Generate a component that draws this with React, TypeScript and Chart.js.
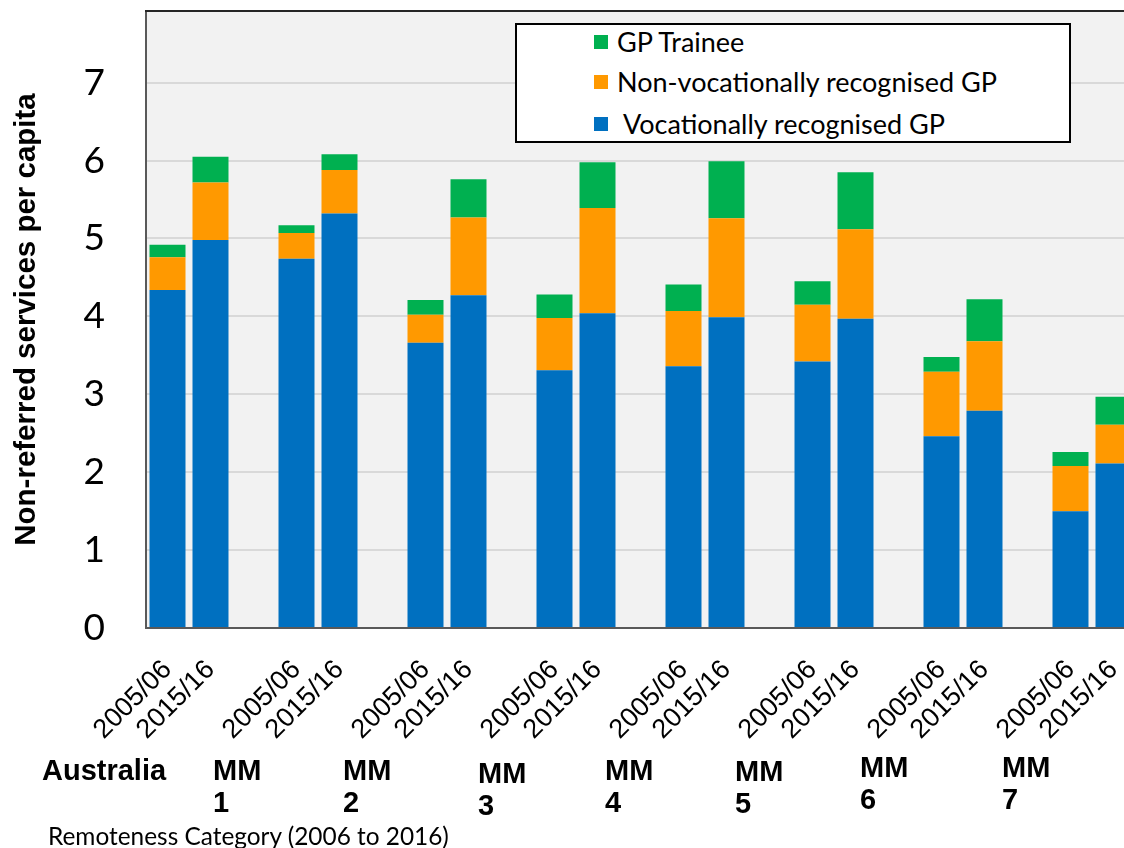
import React, { useEffect, useRef } from "react";
import { Chart, registerables } from "chart.js";

Chart.register(...registerables);

// ---------- data ----------
const periods = ["2005/06", "2015/16"];
const regionNames = ["Australia", "MM 1", "MM 2", "MM 3", "MM 4", "MM 5", "MM 6", "MM 7"];
const vocationalGP = [4.34, 4.98, 4.74, 5.32, 3.66, 4.27, 3.31, 4.04, 3.36, 3.99, 3.42, 3.97, 2.46, 2.79, 1.5, 2.11];
const nonVocationalGP = [0.42, 0.74, 0.33, 0.56, 0.36, 1.0, 0.67, 1.35, 0.71, 1.27, 0.73, 1.15, 0.83, 0.89, 0.58, 0.5];
const gpTrainee = [0.16, 0.33, 0.1, 0.2, 0.19, 0.49, 0.3, 0.59, 0.34, 0.73, 0.3, 0.73, 0.19, 0.54, 0.18, 0.36];
const yTicks = [0, 1, 2, 3, 4, 5, 6, 7];
const seriesNames = ["GP Trainee", "Non-vocationally recognised GP", " Vocationally recognised GP"];
const yTitle = "Non-referred services per capita";
const xCaption = "Remoteness Category (2006 to 2016)";

// ---------- styles / layout ----------
const COLORS = { voc: "#0070c0", nonVoc: "#ff9900", trainee: "#00b050" };
const regionLabelPos = [
  { x: 42, y: 770 },
  { x: 213, y: 770 },
  { x: 343, y: 770 },
  { x: 478, y: 773 },
  { x: 605, y: 770 },
  { x: 735, y: 771 },
  { x: 860, y: 767 },
  { x: 1002, y: 767 },
];

// build slot table: two periods per region followed by an empty gap slot
const labels: string[] = [];
const slot = (arr: number[]) => {
  const out: (number | null)[] = [];
  regionNames.forEach((_, g) => {
    out.push(arr[g * 2], arr[g * 2 + 1], null);
  });
  return out;
};
regionNames.forEach(() => {
  labels.push(periods[0], periods[1], "");
});

const plotFrame = {
  id: "plotFrame",
  beforeDraw(chart: any) {
    const { ctx, chartArea: a } = chart;
    ctx.save();
    ctx.fillStyle = "#f2f2f2";
    ctx.fillRect(a.left, a.top, chart.width - a.left, a.bottom - a.top);
    ctx.restore();
  },
  afterDraw(chart: any) {
    const { ctx, chartArea: a } = chart;
    ctx.save();
    ctx.strokeStyle = "#262626";
    ctx.lineWidth = 2;
    ctx.beginPath();
    ctx.moveTo(a.left - 1, a.top);
    ctx.lineTo(chart.width, a.top);
    ctx.stroke();
    ctx.restore();
  },
};

export default function App() {
  const ref = useRef<HTMLCanvasElement | null>(null);

  useEffect(() => {
    if (!ref.current) return;
    const chart = new Chart(ref.current, {
      type: "bar",
      data: {
        labels,
        datasets: [
          { label: seriesNames[2], data: slot(vocationalGP), backgroundColor: COLORS.voc },
          { label: seriesNames[1], data: slot(nonVocationalGP), backgroundColor: COLORS.nonVoc },
          { label: seriesNames[0], data: slot(gpTrainee), backgroundColor: COLORS.trainee },
        ],
      },
      options: {
        responsive: false,
        animation: false,
        devicePixelRatio: 1,
        layout: { padding: { left: 0, top: 11, right: 22, bottom: 0 } },
        datasets: { bar: { categoryPercentage: 1, barPercentage: 0.837 } },
        plugins: { legend: { display: false }, tooltip: { enabled: false } },
        scales: {
          x: {
            stacked: true,
            grid: { display: false, drawTicks: false },
            border: { display: true, color: "#595959", width: 2 },
            ticks: {
              autoSkip: false,
              minRotation: 45,
              maxRotation: 45,
              padding: 26,
              color: "#000",
              font: { family: "'Liberation Sans', Arial", size: 27 },
            },
            afterFit: (s: any) => {
              s.height = 220;
              s.paddingLeft = 0;
              s.paddingRight = 0;
              s.paddingTop = 0;
              s.paddingBottom = 0;
            },
          },
          y: {
            stacked: true,
            min: 0,
            max: 7.92,
            afterBuildTicks: (s: any) => {
              s.ticks = yTicks.map((v) => ({ value: v }));
            },
            grid: { color: "#d9d9d9", lineWidth: 2, drawTicks: false },
            border: { display: true, color: "#595959", width: 2 },
            ticks: {
              padding: 41,
              color: "#000",
              font: { family: "Lato", size: 37 },
            },
            title: {
              display: true,
              text: yTitle,
              color: "#000",
              font: { family: "'Liberation Sans', Arial", size: 29.5, weight: "bold" },
              padding: { top: 9, bottom: 0 },
            },
            afterFit: (s: any) => {
              s.width = 146;
              s.paddingTop = 0;
              s.paddingBottom = 0;
              s.paddingLeft = 0;
              s.paddingRight = 0;
            },
          },
        },
      },
      plugins: [plotFrame],
    });
    return () => chart.destroy();
  }, []);

  const legendColors = [COLORS.trainee, COLORS.nonVoc, COLORS.voc];
  const legendRows = [42, 82, 124];

  return (
    <div
      style={{
        position: "absolute",
        left: 0,
        top: 0,
        width: 1124,
        height: 848,
        overflow: "hidden",
        background: "#fff",
      }}
    >
      <canvas ref={ref} width={1200} height={848} style={{ display: "block", width: 1200, height: 848 }} />
      {/* legend */}
      <div
        style={{
          position: "absolute",
          left: 515,
          top: 23,
          width: 556,
          height: 120,
          boxSizing: "border-box",
          border: "2px solid #000",
          background: "#fff",
        }}
      />
      {seriesNames.map((name, i) => (
        <React.Fragment key={name}>
          <div
            style={{
              position: "absolute",
              left: 594,
              top: legendRows[i] - 7,
              width: 14,
              height: 14,
              background: legendColors[i],
            }}
          />
          <div
            style={{
              position: "absolute",
              left: 617,
              top: legendRows[i],
              transform: "translateY(-50%)",
              fontFamily: "Lato",
              fontSize: 27,
              lineHeight: "30px",
              whiteSpace: "pre",
              color: "#000",
            }}
          >
            {name}
          </div>
        </React.Fragment>
      ))}
      {/* region labels */}
      {regionNames.map((name, i) => {
        const parts = name.split(" ");
        return (
          <div
            key={name}
            style={{
              position: "absolute",
              left: regionLabelPos[i].x,
              top: regionLabelPos[i].y - 16,
              fontFamily: "'Liberation Sans', Arial",
              fontWeight: "bold",
              fontSize: 29,
              lineHeight: "32px",
              color: "#000",
              whiteSpace: "pre",
            }}
          >
            {parts.map((p, k) => (
              <div key={k}>{p}</div>
            ))}
          </div>
        );
      })}
      <div
        style={{
          position: "absolute",
          left: 48,
          top: 836,
          transform: "translateY(-50%)",
          fontFamily: "Lato",
          fontSize: 24.4,
          lineHeight: "28px",
          color: "#000",
          whiteSpace: "pre",
        }}
      >
        {xCaption}
      </div>
    </div>
  );
}
